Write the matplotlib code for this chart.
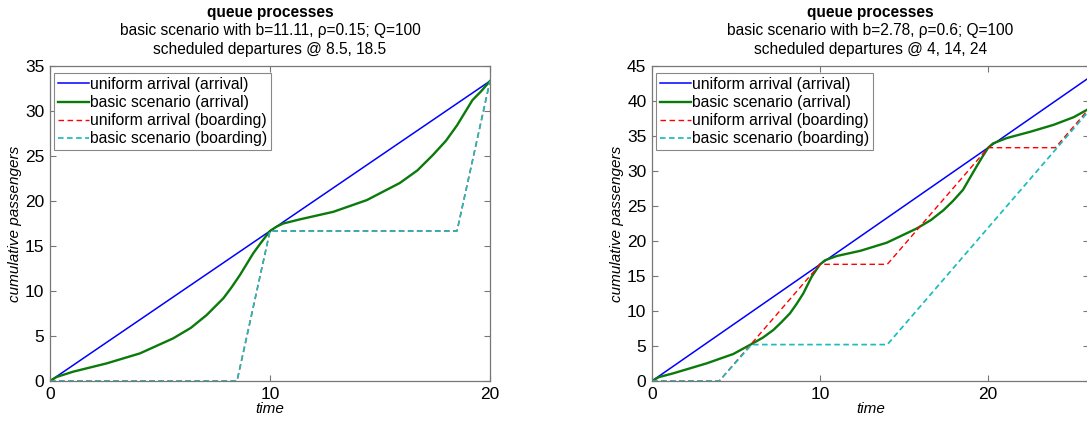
import matplotlib
matplotlib.use("Agg")
import matplotlib.pyplot as plt

plt.rcParams['font.family'] = ['Liberation Sans', 'DejaVu Sans']

# ---- left panel data (b=11.11, rho=0.15) ----
left_t_uniform = [0, 20]
left_uniform_arrival = [0, 33.33]

left_t_basic = [0, 0.3, 1.06, 2.58, 4.09, 5.6, 6.4, 7.12, 7.88, 8.25, 8.64, 9.24, 9.6, 10,
                10.3, 10.6, 11.36, 12.88, 14.4, 15.9, 16.7, 17.4, 18.0, 18.5, 19.2, 19.6, 20]
left_basic_arrival = [0, 0.45, 1.04, 1.96, 3.07, 4.74, 5.9, 7.33, 9.19, 10.4, 11.8, 14.2, 15.4, 16.67,
                      17.15, 17.5, 17.96, 18.8, 20.1, 22.0, 23.4, 25.1, 26.7, 28.4, 31.2, 32.2, 33.33]

left_t_board_uniform = [0, 8.5, 10, 18.5, 20]
left_board_uniform = [0, 0, 16.67, 16.67, 33.33]
left_t_board_basic = [0, 8.5, 10, 18.5, 20]
left_board_basic = [0, 0, 16.67, 16.67, 33.33]

# ---- right panel data (b=2.78, rho=0.6) ----
right_t_uniform = [0, 26]
right_uniform_arrival = [0, 43.33]

right_t_basic = [0, 0.4, 1.27, 3.25, 4.84, 5.93, 6.6, 7.22, 7.7, 8.21, 8.6, 9.0, 9.5, 9.75, 10,
                 10.3, 11.0, 12.4, 13.97, 15.76, 16.6, 17.34, 17.9, 18.5, 19.3, 19.65, 20,
                 20.3, 21.1, 22.5, 23.9, 25.1, 26]
right_basic_arrival = [0, 0.55, 1.1, 2.52, 3.86, 5.29, 6.2, 7.29, 8.4, 9.67, 11.0, 12.5, 14.9, 15.8, 16.67,
                       17.25, 17.86, 18.6, 19.76, 21.8, 23.0, 24.4, 25.7, 27.3, 30.6, 32.0, 33.33,
                       33.95, 34.7, 35.6, 36.6, 37.7, 38.9]

right_t_board_uniform = [0, 4, 10, 14, 20, 24, 26]
right_board_uniform = [0, 0, 16.67, 16.67, 33.33, 33.33, 38.9]
right_t_board_basic = [0, 4, 5.93, 14, 26]
right_board_basic = [0, 0, 5.2, 5.2, 38.6]

labels = ['uniform arrival (arrival)', 'basic scenario (arrival)',
          'uniform arrival (boarding)', 'basic scenario (boarding)']

W, H = 1087, 423
fig = plt.figure(figsize=(W / 100, H / 100), dpi=100)


def px_axes(x0, x1, y_top, y_bot):
    # axes box given in image pixels
    return fig.add_axes([x0 / W, 1 - y_bot / H, (x1 - x0) / W, (y_bot - y_top) / H])


def draw_panel(ax, t_u, u_arr, t_b, b_arr, t_bu, bu, t_bb, bb, xlim, ylim, yticks, titles, leg_xy):
    ax.plot(t_u, u_arr, color='#0000ff', lw=1.1, label=labels[0])
    ax.plot(t_b, b_arr, color='#0a7a0a', lw=1.7, label=labels[1])
    # same physical dash pattern for both dashed lines, so cyan hides red where they coincide
    ax.plot(t_bu, bu, color='#ff0000', lw=1.0, ls='--', dashes=(4, 2.5), label=labels[2])
    ax.plot(t_bb, bb, color='#1cbcbc', lw=1.25, ls='--', dashes=(3.2, 2.0), label=labels[3])
    ax.set_xlim(*xlim)
    ax.set_ylim(*ylim)
    ax.set_xticks([0, 10, 20])
    ax.set_yticks(yticks)
    ax.tick_params(direction='in', top=True, right=True, length=4, width=0.8,
                   color='#777777', labelsize=12.5, pad=4)
    for s in ax.spines.values():
        s.set_color('#777777')
        s.set_linewidth(0.9)
    ax.set_xlabel('time', fontsize=11, style='italic', labelpad=0)
    ax.set_ylabel('cumulative passengers', fontsize=11, style='italic', labelpad=2)
    ax.annotate(titles[0], xy=(0.5, H - 12), xycoords=('axes fraction', 'figure pixels'),
                ha='center', va='center', fontsize=11.2, fontweight='bold')
    ax.annotate(titles[1], xy=(0.5, H - 30), xycoords=('axes fraction', 'figure pixels'),
                ha='center', va='center', fontsize=11.2)
    ax.annotate(titles[2], xy=(0.5, H - 49), xycoords=('axes fraction', 'figure pixels'),
                ha='center', va='center', fontsize=11.2)
    leg = ax.legend(loc='upper left', bbox_to_anchor=(leg_xy[0] / W, 1 - leg_xy[1] / H),
                    bbox_transform=fig.transFigure, borderaxespad=0, fontsize=11.3,
                    fancybox=False, framealpha=1, edgecolor='#888888',
                    handlelength=1.95, handletextpad=0.08, labelspacing=0.2,
                    borderpad=0.25)
    leg.get_frame().set_linewidth(0.8)


ax1 = px_axes(50, 490, 66, 381)
draw_panel(ax1, left_t_uniform, left_uniform_arrival, left_t_basic, left_basic_arrival,
           left_t_board_uniform, left_board_uniform, left_t_board_basic, left_board_basic,
           (0, 20), (0, 35), [0, 5, 10, 15, 20, 25, 30, 35],
           ['queue processes', 'basic scenario with b=11.11, ρ=0.15; Q=100',
            'scheduled departures @ 8.5, 18.5'], (54, 73))

# right panel is cut off at the image edge
ax2 = px_axes(652, 1089, 66, 381)
draw_panel(ax2, right_t_uniform, right_uniform_arrival, right_t_basic, right_basic_arrival,
           right_t_board_uniform, right_board_uniform, right_t_board_basic, right_board_basic,
           (0, 26), (0, 45), [0, 5, 10, 15, 20, 25, 30, 35, 40, 45],
           ['queue processes', 'basic scenario with b=2.78, ρ=0.6; Q=100',
            'scheduled departures @ 4, 14, 24'], (656, 73))

fig.savefig('out.png', dpi=100)
